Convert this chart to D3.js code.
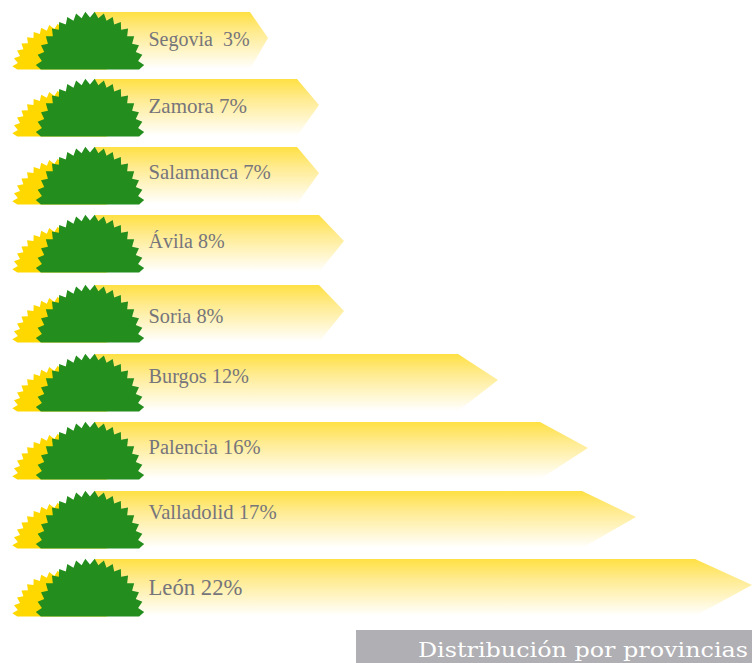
<!DOCTYPE html>
<html><head><meta charset="utf-8">
<script src="https://cdn.jsdelivr.net/npm/d3@7"></script>
<style>html,body{margin:0;padding:0;background:#fff;overflow:hidden}svg{display:block}</style>
</head><body><svg id="c" width="752" height="663"></svg>
<script>
const provinces = ["Segovia","Zamora","Salamanca","Ávila","Soria","Burgos","Palencia","Valladolid","León"];
const shares = [3,7,7,8,8,12,16,17,22];
const gaps = ["  "," "," "," "," "," "," "," "," "];
const caption = "Distribución por provincias";

const W = 752, H = 663, bandH = 57;
const svg = d3.select("#c");

// The source is a hand-laid infographic, so these scales are piecewise.
const xTip = d3.scaleLinear().domain([3,7,8,12,16,17,22]).range([268,319,344,498,588,636,752]);
const shoulderBack = d3.scaleLinear().domain([3,7,8,12,16,17,22]).range([18,22,25,40,48,54,57]);
const yTop = d3.scaleOrdinal().domain(provinces).range([12,79,147,215,285,354,422,491,559]);
const yText = d3.scaleOrdinal().domain(provinces).range([46,113,179,248,323,383,454,519,595]);
const fontSize = d3.scaleOrdinal().domain(provinces).range([20,21,20.7,20,20.3,20.3,20.5,20.7,22.7]);

const defs = svg.append("defs");
const g = defs.append("linearGradient").attr("id","band").attr("x1",0).attr("y1",0).attr("x2",0).attr("y2",1);
g.append("stop").attr("offset",0).attr("stop-color","#ffe043");
g.append("stop").attr("offset",0.35).attr("stop-color","#ffeb8f");
g.append("stop").attr("offset",1).attr("stop-color","#ffffff");

const star = (cx, base, rx, ry, inner, n) => {
  const pts = [];
  const a0 = Math.PI * 0.035;
  for (let i = 0; i <= 2*n; i++) {
    const t = a0 + (Math.PI - 2*a0) * i / (2*n);
    const k = i % 2 === 0 ? 1 : inner;
    pts.push([cx + rx*k*Math.cos(t), base + 2 - ry*k*Math.sin(t)]);
  }
  const area = [[pts[0][0]-5, base], ...pts, [pts[pts.length-1][0]+5, base]];
  return d3.line()(area.map(p => [p[0], Math.min(p[1], base)])) + "Z";
};

const rows = svg.selectAll("g.row").data(provinces.map((p,i)=>({p, v:shares[i], gap:gaps[i]}))).join("g").attr("class","row");

rows.append("path")
  .attr("fill","url(#band)")
  .attr("d", d => {
    const t = yTop(d.p), tip = xTip(d.v), s = tip - shoulderBack(d.v);
    return d3.line()([[95,t],[s,t],[tip,t+26],[s,t+bandH],[95,t+bandH]]) + "Z";
  });

rows.append("path").attr("fill","#ffd800")
  .attr("d", d => star(62, yTop(d.p)+bandH+0.5, 50, 48, 0.9, 17));
rows.append("path").attr("fill","#238e1d")
  .attr("d", d => star(90, yTop(d.p)+bandH+0.5, 54.5, 60, 0.9, 17));

rows.append("text")
  .attr("x",148.5).attr("y", d => yText(d.p))
  .attr("xml:space","preserve").style("white-space","pre")
  .attr("font-family","'Liberation Serif',serif")
  .attr("font-size", d => fontSize(d.p))
  .attr("fill","#76757c")
  .text(d => d.p + d.gap + d.v + "%");

svg.append("rect").attr("x",356).attr("y",630).attr("width",W-356).attr("height",H-630).attr("fill","#b0afb4");
svg.append("text").attr("x",748).attr("y",657).attr("text-anchor","end")
  .attr("font-family","'DejaVu Serif',serif").attr("font-size",20)
  .attr("fill","#ffffff").attr("textLength",330).attr("lengthAdjust","spacingAndGlyphs")
  .text(caption);
</script></body></html>
